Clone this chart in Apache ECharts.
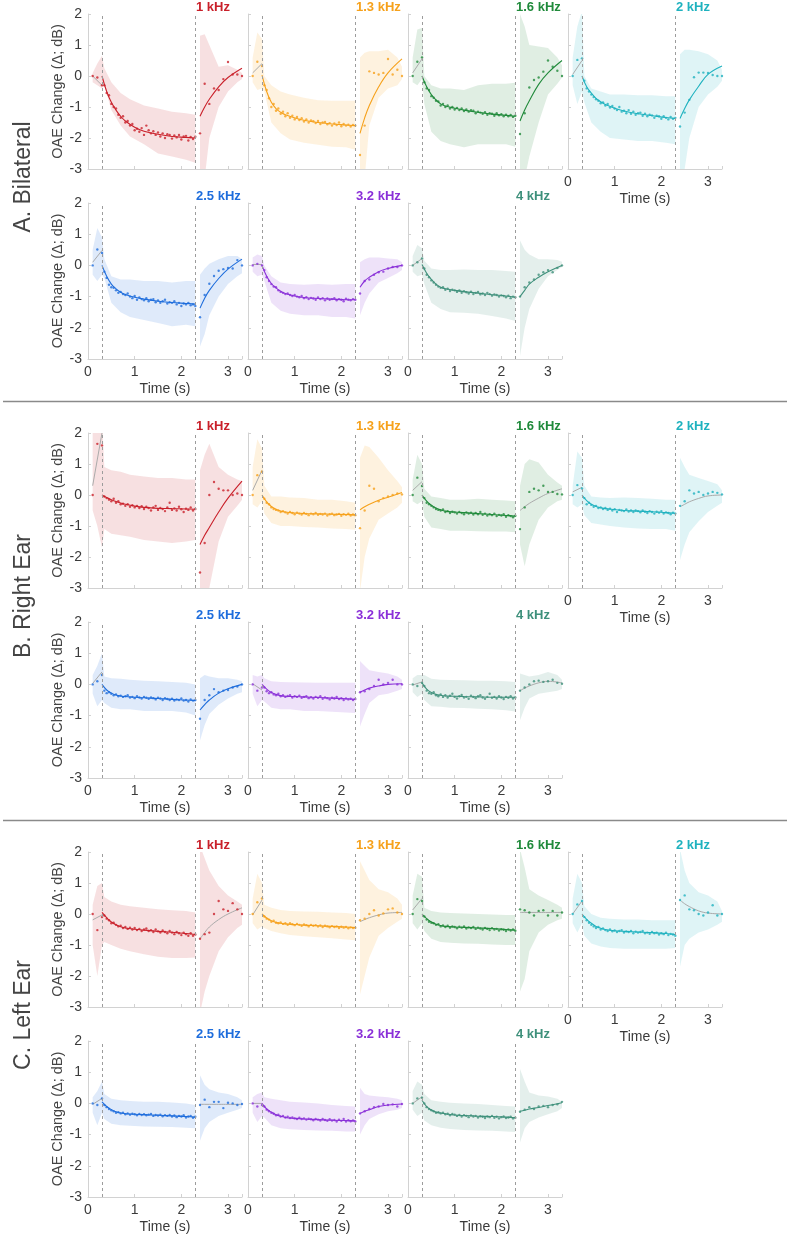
<!DOCTYPE html>
<html><head><meta charset="utf-8">
<script src="https://cdn.jsdelivr.net/npm/echarts/dist/echarts.min.js"></script>
<style>html,body{margin:0;padding:0;background:#fff}#c{width:790px;height:1239px}</style>
</head><body><div id="c"></div>
<script>
// ---------- data ----------
const sections = ['A. Bilateral', 'B. Right Ear', 'C. Left Ear'];
const freqs = ['1 kHz', '1.3 kHz', '1.6 kHz', '2 kHz', '2.5 kHz', '3.2 kHz', '4 kHz'];
const xTicks = [0, 1, 2, 3];
const yTicks = [-3, -2, -1, 0, 1, 2];
const cueT = [0.3, 2.3];
const preT = [0.1, 0.2, 0.3];
const preLineT = [0.1, 0.3];
const denseT = [0.35,0.4,0.45,0.5,0.55,0.6,0.65,0.7,0.75,0.8,0.85,0.9,0.95,1.0,1.05,1.1,1.15,1.2,1.25,1.3,1.35,1.4,1.45,1.5,1.55,1.6,1.65,1.7,1.75,1.8,1.85,1.9,1.95,2.0,2.05,2.1,2.15,2.2,2.25,2.3];
const decayT = [0.3,0.4,0.5,0.6,0.7,0.8,1.0,1.2,1.5,1.8,2.1,2.3];
const recT = [2.4,2.5,2.6,2.7,2.8,2.9,3.0,3.1,3.2,3.3];
const recCurveT = [2.4,2.5,2.6,2.8,3.0,3.3];
const bandT1 = [0.1,0.2,0.3,0.35,0.5,0.7,0.9,1.2,1.5,1.8,2.1,2.3];
const bandT2 = [2.4,2.5,2.6,2.8,3.0,3.2,3.3];

// panel order: A 1..4 kHz (7), B (7), C (7)
const preDots = [
 [0,-0.05,-0.3],[0,0.46,0.32],[0,0.46,0.6],[0,0.52,0.57],[0,0.51,0.4],[0,0.05,0.0],[0,0.1,0.22],
 [0,1.65,1.6],[0,0.64,0.75],[0,0.56,0.29],[0,0.32,0.21],[0,0.1,0.3],[0,-0.2,-0.1],[0,-0.05,0.05],
 [0,-0.52,-0.1],[0,0.38,0.5],[0,0.48,0.42],[0,0.31,0.42],[0,-0.05,0.16],[0,-0.1,-0.05],[0,0.16,0.18]
];
const preLine = [
 [0.0,-0.3],[0.1,0.4],[0.1,0.55],[0.05,0.5],[0.1,0.48],[0.03,0.03],[0.0,0.22],
 [0.3,2.0],[0.15,0.8],[0.15,0.43],[0.1,0.25],[0.03,0.4],[0.02,-0.18],[-0.02,0.08],
 [-0.19,-0.03],[-0.03,0.45],[0.13,0.5],[0.0,0.42],[-0.03,0.16],[0.0,0.0],[0.0,0.21]
];
const denseDots = [
 [-0.3,-0.55,-0.62,-0.9,-1.0,-1.05,-1.25,-1.35,-1.3,-1.5,-1.45,-1.6,-1.55,-1.75,-1.7,-1.8,-1.68,-1.9,-1.6,-1.75,-1.85,-1.78,-1.9,-1.82,-1.95,-1.85,-2.0,-1.88,-1.9,-2.02,-1.92,-1.98,-1.9,-2.05,-1.95,-1.93,-2.08,-1.97,-2.03,-1.96],
 [-0.3,-0.45,-0.72,-1.0,-0.9,-1.12,-1.05,-1.22,-1.15,-1.3,-1.2,-1.35,-1.28,-1.4,-1.32,-1.42,-1.36,-1.47,-1.4,-1.5,-1.43,-1.46,-1.52,-1.45,-1.55,-1.5,-1.48,-1.56,-1.52,-1.6,-1.53,-1.58,-1.5,-1.62,-1.55,-1.6,-1.57,-1.63,-1.58,-1.6],
 [-0.2,-0.4,-0.45,-0.65,-0.7,-0.8,-0.82,-0.95,-0.9,-1.0,-0.95,-1.05,-1.0,-1.08,-1.03,-1.1,-1.05,-1.13,-1.08,-1.15,-1.1,-1.12,-1.2,-1.15,-1.18,-1.22,-1.17,-1.25,-1.2,-1.22,-1.28,-1.2,-1.27,-1.23,-1.3,-1.25,-1.3,-1.26,-1.32,-1.28],
 [-0.15,-0.4,-0.5,-0.6,-0.68,-0.75,-0.8,-0.88,-0.85,-0.95,-0.9,-1.02,-0.97,-1.05,-1.1,-1.0,-1.15,-1.12,-1.2,-1.1,-1.22,-1.15,-1.25,-1.2,-1.18,-1.28,-1.22,-1.3,-1.25,-1.27,-1.35,-1.28,-1.3,-1.38,-1.3,-1.35,-1.4,-1.32,-1.38,-1.35],
 [-0.2,-0.4,-0.62,-0.7,-0.72,-0.8,-0.88,-0.85,-0.92,-0.95,-0.9,-1.0,-1.05,-0.98,-1.1,-1.03,-1.08,-1.12,-1.05,-1.15,-1.1,-1.08,-1.18,-1.12,-1.2,-1.15,-1.1,-1.22,-1.18,-1.2,-1.15,-1.25,-1.2,-1.3,-1.22,-1.25,-1.2,-1.28,-1.25,-1.3],
 [-0.15,-0.38,-0.5,-0.6,-0.68,-0.7,-0.8,-0.85,-0.88,-0.92,-0.9,-0.95,-0.98,-0.95,-1.0,-1.02,-0.98,-1.05,-1.02,-1.08,-1.04,-1.06,-1.1,-1.03,-1.08,-1.05,-1.12,-1.06,-1.1,-1.08,-1.05,-1.12,-1.08,-1.1,-1.15,-1.07,-1.1,-1.12,-1.08,-1.1],
 [-0.1,-0.3,-0.38,-0.48,-0.55,-0.62,-0.68,-0.72,-0.7,-0.78,-0.75,-0.82,-0.78,-0.8,-0.85,-0.8,-0.88,-0.83,-0.86,-0.9,-0.84,-0.92,-0.88,-0.85,-0.93,-0.9,-0.95,-0.88,-0.92,-0.97,-0.93,-0.95,-1.0,-0.96,-0.98,-1.02,-0.97,-1.05,-1.0,-1.02],
 [-0.05,-0.1,-0.15,-0.2,-0.12,-0.25,-0.2,-0.3,-0.28,-0.35,-0.3,-0.38,-0.33,-0.4,-0.35,-0.42,-0.36,-0.45,-0.38,-0.42,-0.5,-0.4,-0.35,-0.48,-0.42,-0.45,-0.52,-0.4,-0.25,-0.48,-0.43,-0.5,-0.38,-0.46,-0.55,-0.44,-0.48,-0.4,-0.5,-0.45],
 [-0.12,-0.25,-0.3,-0.4,-0.45,-0.48,-0.5,-0.55,-0.52,-0.56,-0.6,-0.55,-0.58,-0.62,-0.57,-0.6,-0.63,-0.58,-0.61,-0.65,-0.6,-0.62,-0.58,-0.64,-0.61,-0.63,-0.6,-0.66,-0.62,-0.6,-0.65,-0.63,-0.61,-0.67,-0.62,-0.64,-0.6,-0.66,-0.63,-0.65],
 [-0.1,-0.25,-0.3,-0.35,-0.4,-0.45,-0.48,-0.5,-0.47,-0.55,-0.52,-0.58,-0.54,-0.56,-0.6,-0.55,-0.58,-0.62,-0.56,-0.6,-0.57,-0.63,-0.58,-0.62,-0.55,-0.64,-0.6,-0.66,-0.62,-0.65,-0.6,-0.68,-0.64,-0.66,-0.62,-0.7,-0.65,-0.68,-0.72,-0.67],
 [-0.1,-0.3,-0.25,-0.32,-0.38,-0.35,-0.42,-0.4,-0.45,-0.42,-0.48,-0.44,-0.5,-0.46,-0.55,-0.48,-0.5,-0.52,-0.47,-0.53,-0.5,-0.55,-0.5,-0.52,-0.56,-0.5,-0.54,-0.58,-0.52,-0.55,-0.6,-0.54,-0.57,-0.52,-0.6,-0.56,-0.58,-0.62,-0.57,-0.6],
 [-0.2,-0.28,-0.25,-0.3,-0.35,-0.32,-0.38,-0.36,-0.4,-0.38,-0.35,-0.42,-0.4,-0.44,-0.38,-0.42,-0.45,-0.4,-0.43,-0.46,-0.42,-0.44,-0.48,-0.43,-0.45,-0.5,-0.44,-0.47,-0.5,-0.46,-0.52,-0.48,-0.5,-0.45,-0.52,-0.5,-0.55,-0.48,-0.52,-0.5],
 [-0.1,-0.22,-0.28,-0.25,-0.32,-0.35,-0.3,-0.38,-0.35,-0.4,-0.37,-0.35,-0.42,-0.38,-0.4,-0.36,-0.43,-0.4,-0.38,-0.44,-0.41,-0.45,-0.4,-0.43,-0.38,-0.46,-0.42,-0.44,-0.48,-0.43,-0.45,-0.4,-0.47,-0.44,-0.5,-0.45,-0.48,-0.46,-0.5,-0.47],
 [-0.05,-0.2,-0.28,-0.3,-0.25,-0.35,-0.38,-0.32,-0.4,-0.35,-0.42,-0.36,-0.3,-0.4,-0.45,-0.38,-0.34,-0.42,-0.4,-0.46,-0.36,-0.4,-0.44,-0.38,-0.35,-0.42,-0.46,-0.4,-0.3,-0.43,-0.4,-0.45,-0.38,-0.42,-0.47,-0.4,-0.43,-0.38,-0.45,-0.42],
 [-0.05,-0.15,-0.2,-0.3,-0.28,-0.35,-0.4,-0.38,-0.45,-0.42,-0.48,-0.44,-0.5,-0.45,-0.52,-0.48,-0.55,-0.5,-0.47,-0.55,-0.52,-0.58,-0.5,-0.56,-0.6,-0.53,-0.58,-0.62,-0.55,-0.6,-0.65,-0.58,-0.62,-0.68,-0.6,-0.65,-0.7,-0.62,-0.7,-0.66],
 [-0.08,-0.15,-0.18,-0.25,-0.22,-0.28,-0.3,-0.27,-0.32,-0.3,-0.35,-0.3,-0.33,-0.36,-0.32,-0.35,-0.38,-0.34,-0.36,-0.4,-0.35,-0.38,-0.36,-0.4,-0.37,-0.42,-0.38,-0.4,-0.43,-0.39,-0.42,-0.4,-0.45,-0.41,-0.44,-0.42,-0.46,-0.43,-0.45,-0.44],
 [-0.08,-0.18,-0.25,-0.28,-0.3,-0.35,-0.33,-0.4,-0.37,-0.42,-0.38,-0.44,-0.4,-0.42,-0.46,-0.41,-0.44,-0.4,-0.47,-0.43,-0.45,-0.42,-0.48,-0.44,-0.47,-0.5,-0.45,-0.48,-0.52,-0.46,-0.5,-0.48,-0.53,-0.49,-0.51,-0.55,-0.5,-0.53,-0.5,-0.54],
 [-0.1,-0.2,-0.28,-0.35,-0.4,-0.45,-0.42,-0.5,-0.47,-0.52,-0.55,-0.5,-0.56,-0.53,-0.58,-0.55,-0.52,-0.6,-0.56,-0.58,-0.55,-0.62,-0.57,-0.6,-0.58,-0.55,-0.62,-0.6,-0.64,-0.58,-0.62,-0.6,-0.66,-0.62,-0.65,-0.6,-0.68,-0.64,-0.66,-0.7],
 [-0.05,-0.12,-0.18,-0.22,-0.25,-0.3,-0.28,-0.32,-0.3,-0.35,-0.32,-0.36,-0.33,-0.35,-0.38,-0.34,-0.37,-0.35,-0.38,-0.36,-0.34,-0.4,-0.37,-0.39,-0.36,-0.41,-0.38,-0.4,-0.37,-0.42,-0.39,-0.44,-0.4,-0.42,-0.38,-0.45,-0.42,-0.4,-0.46,-0.43],
 [-0.1,-0.2,-0.25,-0.3,-0.33,-0.38,-0.36,-0.42,-0.4,-0.45,-0.43,-0.47,-0.45,-0.48,-0.5,-0.46,-0.5,-0.48,-0.52,-0.49,-0.51,-0.54,-0.5,-0.52,-0.55,-0.5,-0.53,-0.56,-0.51,-0.55,-0.53,-0.58,-0.52,-0.56,-0.5,-0.58,-0.54,-0.57,-0.55,-0.58],
 [0.0,-0.12,-0.18,-0.22,-0.25,-0.3,-0.28,-0.32,-0.3,-0.35,-0.33,-0.38,-0.34,-0.36,-0.4,-0.37,-0.42,-0.38,-0.4,-0.44,-0.39,-0.42,-0.4,-0.45,-0.41,-0.43,-0.47,-0.42,-0.44,-0.4,-0.46,-0.43,-0.48,-0.44,-0.42,-0.47,-0.45,-0.43,-0.48,-0.46]
];
const decayCurve = [
 [0.0,-0.5,-0.85,-1.1,-1.3,-1.45,-1.65,-1.78,-1.88,-1.95,-1.98,-2.0],
 [0.03,-0.5,-0.85,-1.05,-1.17,-1.25,-1.35,-1.43,-1.5,-1.55,-1.58,-1.6],
 [0.0,-0.35,-0.6,-0.77,-0.9,-0.97,-1.04,-1.1,-1.17,-1.23,-1.27,-1.3],
 [0.0,-0.35,-0.55,-0.72,-0.83,-0.92,-1.04,-1.13,-1.22,-1.28,-1.34,-1.37],
 [0.0,-0.35,-0.6,-0.75,-0.86,-0.93,-1.02,-1.08,-1.15,-1.19,-1.22,-1.24],
 [0.0,-0.35,-0.58,-0.72,-0.83,-0.9,-0.98,-1.03,-1.06,-1.08,-1.1,-1.1],
 [0.03,-0.25,-0.45,-0.6,-0.7,-0.75,-0.8,-0.84,-0.89,-0.94,-0.98,-1.02],
 [0.0,-0.08,-0.15,-0.21,-0.26,-0.3,-0.36,-0.4,-0.43,-0.44,-0.45,-0.46],
 [0.0,-0.22,-0.37,-0.46,-0.52,-0.55,-0.58,-0.6,-0.61,-0.62,-0.63,-0.64],
 [0.0,-0.2,-0.33,-0.42,-0.48,-0.52,-0.55,-0.57,-0.6,-0.63,-0.66,-0.68],
 [0.0,-0.18,-0.3,-0.37,-0.41,-0.44,-0.47,-0.5,-0.52,-0.54,-0.57,-0.59],
 [0.0,-0.18,-0.28,-0.34,-0.37,-0.39,-0.41,-0.43,-0.45,-0.48,-0.5,-0.52],
 [0.0,-0.15,-0.26,-0.32,-0.36,-0.38,-0.39,-0.4,-0.42,-0.44,-0.46,-0.48],
 [0.05,-0.15,-0.26,-0.32,-0.35,-0.37,-0.38,-0.39,-0.4,-0.41,-0.41,-0.41],
 [0.05,-0.12,-0.26,-0.35,-0.41,-0.45,-0.49,-0.52,-0.56,-0.59,-0.63,-0.66],
 [0.0,-0.13,-0.22,-0.27,-0.3,-0.32,-0.34,-0.36,-0.38,-0.4,-0.42,-0.44],
 [0.0,-0.15,-0.26,-0.33,-0.37,-0.4,-0.42,-0.43,-0.45,-0.47,-0.5,-0.52],
 [0.0,-0.17,-0.3,-0.4,-0.46,-0.5,-0.54,-0.56,-0.58,-0.6,-0.63,-0.66],
 [0.05,-0.1,-0.2,-0.27,-0.31,-0.33,-0.35,-0.36,-0.38,-0.4,-0.42,-0.44],
 [0.0,-0.18,-0.28,-0.36,-0.41,-0.45,-0.48,-0.5,-0.52,-0.54,-0.55,-0.56],
 [0.1,-0.1,-0.21,-0.28,-0.31,-0.33,-0.37,-0.39,-0.41,-0.42,-0.44,-0.46]
];
const recDots = [
 [-1.85,-0.25,-0.9,-0.4,-0.45,-0.1,0.45,0.05,0.05,0.0],
 [-2.55,-1.6,0.15,0.1,0.05,0.1,0.55,0.05,0.2,0.0],
 [-1.87,-1.2,-0.37,-0.13,-0.05,0.14,0.5,0.3,0.17,0.0],
 [-1.63,-1.18,-0.77,-0.04,0.11,0.11,0.1,0.03,0.0,0.0],
 [-1.66,-0.95,-0.59,-0.34,-0.17,-0.12,-0.08,-0.1,0.17,0.0],
 [-0.9,-0.5,-0.45,-0.3,-0.22,-0.2,-0.1,-0.05,-0.05,0.0],
 [-1.0,-0.7,-0.55,-0.45,-0.3,-0.22,-0.15,-0.22,-0.08,0.0],
 [-2.5,-1.55,0.0,0.42,0.2,0.15,0.15,0.0,0.05,0.0],
 [-1.07,-0.5,0.3,0.2,-0.2,-0.1,-0.05,0.0,0.05,0.02],
 [-1.1,-0.4,0.1,0.2,0.15,0.3,0.1,0.1,0.03,0.02],
 [-0.35,-0.2,0.15,0.05,0.1,0.0,0.05,0.1,0.07,0.02],
 [-1.1,-0.5,-0.35,-0.15,-0.25,-0.2,-0.18,-0.1,-0.07,0.0],
 [-0.25,-0.22,-0.15,-0.05,0.15,0.0,0.05,0.15,0.0,0.0],
 [-0.2,-0.1,0.0,0.1,0.12,0.08,0.1,0.15,0.05,0.02],
 [-0.8,-0.65,-0.6,0.0,0.42,0.15,0.1,0.35,0.15,0.0],
 [-0.2,-0.15,0.0,0.12,-0.05,0.02,0.15,0.18,0.05,0.0],
 [0.15,0.12,0.05,-0.05,0.1,0.12,-0.05,0.1,-0.05,0.05],
 [0.45,0.6,0.15,0.12,0.0,-0.05,0.05,0.28,-0.05,0.0],
 [-0.05,0.12,-0.12,0.05,0.05,-0.15,0.02,0.0,-0.05,-0.02],
 [-0.32,-0.25,-0.18,-0.12,-0.1,-0.02,-0.05,-0.03,-0.1,-0.02],
 [-0.27,-0.2,-0.12,-0.18,-0.1,-0.08,-0.12,-0.05,-0.03,0.05]
];
const recCurve = [
 [-1.3,-1.0,-0.75,-0.35,-0.05,0.25],
 [-1.85,-1.35,-0.95,-0.35,0.1,0.55],
 [-1.45,-1.1,-0.8,-0.27,0.1,0.5],
 [-1.37,-1.05,-0.77,-0.33,0.05,0.32],
 [-1.37,-1.05,-0.8,-0.42,-0.12,0.2],
 [-0.7,-0.5,-0.38,-0.2,-0.1,0.0],
 [-1.0,-0.8,-0.6,-0.38,-0.2,0.0],
 [-1.6,-1.3,-1.05,-0.55,-0.1,0.45],
 [-0.48,-0.38,-0.3,-0.17,-0.07,0.08],
 [-0.5,-0.38,-0.27,-0.1,0.05,0.2],
 [-0.38,-0.3,-0.22,-0.11,-0.03,0.0],
 [-0.82,-0.65,-0.5,-0.28,-0.14,0.0],
 [-0.25,-0.18,-0.12,-0.05,0.0,0.02],
 [-0.2,-0.12,-0.05,0.05,0.1,0.05],
 [-0.8,-0.6,-0.42,-0.18,0.0,0.2],
 [-0.25,-0.18,-0.12,-0.03,0.03,0.05],
 [0.05,0.05,0.05,0.05,0.05,0.05],
 [0.45,0.33,0.24,0.1,0.03,0.0],
 [-0.03,-0.03,-0.03,-0.03,-0.03,-0.03],
 [-0.32,-0.25,-0.2,-0.1,-0.05,-0.02],
 [-0.25,-0.22,-0.18,-0.13,-0.07,0.02]
];
const recFitSig = [true,true,true,true,true,true,true, true,true,false,false,true,true,false, false,false,false,false,false,true,true];
const bandUp1 = [
 [0.1,0.4,0.65,0.25,-0.2,-0.55,-0.75,-0.95,-1.05,-1.15,-1.2,-1.25],
 [0.6,1.4,1.2,0.0,-0.3,-0.5,-0.6,-0.7,-0.78,-0.8,-0.8,-0.8],
 [0.6,1.5,1.55,0.0,-0.3,-0.4,-0.4,-0.45,-0.3,-0.25,-0.25,-0.22],
 [0.6,1.6,2.1,0.0,-0.4,-0.5,-0.6,-0.6,-0.62,-0.62,-0.65,-0.65],
 [0.5,1.2,0.9,0.2,-0.35,-0.45,-0.45,-0.5,-0.5,-0.55,-0.5,-0.5],
 [0.25,0.35,0.3,0.0,-0.35,-0.55,-0.6,-0.62,-0.6,-0.62,-0.6,-0.6],
 [0.3,0.65,0.55,0.15,-0.1,-0.15,-0.15,-0.13,-0.15,-0.15,-0.18,-0.2],
 [2.2,2.5,2.5,0.9,0.8,0.75,0.65,0.6,0.55,0.55,0.5,0.5],
 [0.9,1.8,1.5,0.3,-0.05,-0.05,-0.08,-0.1,-0.15,-0.15,-0.2,-0.25],
 [0.5,1.3,1.0,0.2,-0.05,-0.1,-0.15,-0.15,-0.12,-0.15,-0.18,-0.2],
 [0.3,1.4,1.2,0.3,-0.05,-0.08,-0.1,-0.08,-0.1,-0.12,-0.15,-0.15],
 [0.3,0.6,1.0,0.25,0.2,0.18,0.15,0.12,0.1,0.08,0.05,0.0],
 [0.3,0.25,0.3,0.2,0.1,0.08,0.07,0.06,0.05,0.05,0.05,0.05],
 [0.2,0.3,0.3,0.3,0.18,0.15,0.14,0.13,0.12,0.12,0.1,0.08],
 [0.3,0.9,1.0,0.55,0.4,0.3,0.25,0.2,0.15,0.12,0.1,0.05],
 [0.5,1.3,1.0,0.3,0.2,0.13,0.1,0.08,0.07,0.05,0.03,0.0],
 [0.6,1.3,1.2,0.2,0.1,0.05,0.03,0.02,0.0,-0.02,-0.03,-0.03],
 [0.5,1.3,1.0,0.25,0.0,-0.12,-0.15,-0.18,-0.18,-0.2,-0.2,-0.2],
 [0.2,0.4,0.7,0.3,0.15,0.1,0.08,0.05,0.05,0.03,0.0,-0.05],
 [0.2,0.3,0.35,0.2,0.15,0.1,0.05,0.03,0.0,-0.05,-0.08,-0.1],
 [0.4,0.7,0.6,0.3,0.1,0.05,0.02,0.0,-0.02,-0.05,-0.08,-0.1]
];
const bandLo1 = [
 [-0.2,-0.3,-0.4,-0.3,-1.1,-1.6,-1.95,-2.2,-2.5,-2.6,-2.7,-2.8],
 [-0.2,-0.45,-0.4,-0.5,-1.5,-1.85,-2.05,-2.15,-2.22,-2.28,-2.3,-2.38],
 [-0.2,-0.3,-0.1,-0.9,-1.8,-2.1,-2.2,-2.3,-2.2,-2.2,-2.2,-2.28],
 [-0.3,-0.9,-0.5,-0.85,-1.5,-1.8,-2.0,-2.05,-2.1,-2.1,-2.15,-2.2],
 [-0.3,-0.5,-0.3,-0.4,-1.2,-1.5,-1.65,-1.75,-1.85,-1.95,-1.9,-1.95],
 [-0.2,-0.35,-0.3,-0.5,-1.2,-1.45,-1.55,-1.6,-1.6,-1.65,-1.65,-1.7],
 [-0.2,-0.35,-0.3,-0.6,-1.2,-1.4,-1.5,-1.52,-1.55,-1.62,-1.7,-1.78],
 [-0.5,-1.0,-1.7,-1.1,-1.25,-1.3,-1.35,-1.45,-1.5,-1.55,-1.5,-1.45],
 [-0.3,-0.4,-0.2,-0.6,-0.9,-1.0,-1.0,-1.03,-1.05,-1.08,-1.1,-1.12],
 [-0.2,-0.3,-0.2,-0.7,-1.05,-1.1,-1.15,-1.15,-1.17,-1.18,-1.18,-1.2],
 [-0.3,-0.4,-0.3,-0.65,-0.9,-0.95,-1.0,-1.05,-1.08,-1.1,-1.1,-1.15],
 [-0.3,-0.7,-0.5,-0.6,-0.75,-0.8,-0.8,-0.85,-0.85,-0.85,-0.9,-1.0],
 [-0.3,-0.7,-0.5,-0.55,-0.75,-0.8,-0.8,-0.85,-0.85,-0.88,-0.9,-0.92],
 [-0.25,-0.4,-0.3,-0.5,-0.7,-0.72,-0.75,-0.76,-0.78,-0.8,-0.83,-0.87],
 [-1.0,-2.0,-1.0,-0.9,-1.0,-1.12,-1.2,-1.3,-1.38,-1.42,-1.42,-1.4],
 [-0.3,-0.5,-0.4,-0.45,-0.55,-0.62,-0.68,-0.72,-0.75,-0.78,-0.82,-0.85],
 [-0.3,-0.5,-0.3,-0.55,-0.8,-0.9,-0.93,-0.95,-0.96,-0.98,-1.0,-1.0],
 [-0.3,-0.6,-0.3,-0.7,-0.95,-1.05,-1.1,-1.12,-1.12,-1.12,-1.12,-1.1],
 [-0.3,-0.7,-0.3,-0.5,-0.65,-0.7,-0.72,-0.74,-0.75,-0.76,-0.78,-0.8],
 [-0.3,-0.6,-0.4,-0.45,-0.7,-0.8,-0.83,-0.85,-0.87,-0.88,-0.9,-0.9],
 [-0.2,-0.4,-0.3,-0.55,-0.7,-0.78,-0.82,-0.85,-0.87,-0.88,-0.9,-0.92]
];
const bandUp2 = [
 [1.3,1.35,1.0,0.3,0.35,0.2,0.1],[0.6,0.75,0.8,0.8,0.85,0.6,0.3],[2.0,1.6,1.0,0.95,0.9,0.6,0.35],[0.7,0.85,0.85,0.8,0.7,0.5,0.2],
 [-0.3,-0.1,0.05,0.2,0.3,0.3,0.2],[0.1,0.2,0.25,0.25,0.22,0.2,0.1],[0.8,0.5,0.35,0.2,0.2,0.17,0.12],
 [0.8,1.3,1.65,0.9,0.65,0.5,0.45],[1.2,1.6,1.55,1.2,0.8,0.45,0.25],[0.3,1.0,1.15,1.05,0.65,0.4,0.3],[1.2,0.9,0.65,0.55,0.45,0.35,0.15],
 [0.2,0.3,0.25,0.2,0.2,0.15,0.1],[0.75,0.6,0.45,0.4,0.35,0.25,0.15],[0.35,0.3,0.25,0.3,0.4,0.3,0.15],
 [2.2,1.8,1.4,0.9,0.6,0.4,0.3],[1.7,1.4,1.1,0.8,0.7,0.5,0.3],[2.1,1.5,0.8,0.6,0.45,0.3,0.2],[2.1,1.4,1.0,0.7,0.6,0.4,0.1],
 [0.9,0.6,0.45,0.35,0.3,0.2,0.1],[0.5,0.3,0.25,0.22,0.2,0.15,0.1],[1.1,0.7,0.35,0.25,0.22,0.15,0.05]
];
const bandLo2 = [
 [-3.3,-3.3,-2.0,-1.0,-0.5,-0.2,-0.1],[-3.3,-3.3,-1.6,-0.7,-0.4,-0.3,-0.1],[-3.3,-3.3,-2.6,-1.5,-0.6,-0.25,-0.05],[-3.3,-3.0,-2.0,-1.0,-0.6,-0.35,-0.15],
 [-2.6,-2.2,-1.6,-1.0,-0.6,-0.35,-0.25],[-1.6,-1.2,-0.9,-0.55,-0.4,-0.25,-0.15],[-2.9,-2.0,-1.4,-0.75,-0.35,-0.15,-0.05],
 [-3.3,-3.3,-3.0,-1.5,-0.7,-0.35,-0.15],[-3.1,-2.0,-1.4,-0.8,-0.6,-0.4,-0.25],[-1.6,-2.3,-1.6,-0.8,-0.4,-0.2,-0.15],[-2.1,-1.6,-1.2,-0.85,-0.55,-0.35,-0.25],
 [-1.8,-1.3,-0.95,-0.65,-0.45,-0.3,-0.25],[-1.35,-0.95,-0.6,-0.35,-0.3,-0.2,-0.15],[-1.15,-0.75,-0.45,-0.3,-0.25,-0.2,-0.15],
 [-3.2,-2.5,-2.0,-1.2,-0.75,-0.45,-0.35],[-2.6,-2.0,-1.4,-0.7,-0.45,-0.25,-0.15],[-2.5,-2.1,-1.2,-0.6,-0.35,-0.2,-0.15],[-1.7,-1.0,-0.8,-0.6,-0.5,-0.35,-0.25],
 [-1.2,-0.8,-0.6,-0.4,-0.3,-0.2,-0.15],[-1.0,-0.7,-0.5,-0.35,-0.25,-0.2,-0.15],[-1.25,-0.8,-0.6,-0.45,-0.35,-0.25,-0.15]
];

// ---------- styling ----------
const freqColors = ['#c9202a', '#f6a11b', '#208a3b', '#1fb2bf', '#1e6ddc', '#8a30d8', '#3e907b'];
const FONT = 'Liberation Sans, Arial, Helvetica, sans-serif';
const AXIS_GREY = '#d2d2d2';
const FIT_GREY = '#aaaaaa';
function rgba(hex, a) {
  const n = parseInt(hex.slice(1), 16);
  return `rgba(${(n >> 16) & 255},${(n >> 8) & 255},${n & 255},${a})`;
}
const pairs = (T, V) => T.map((t, k) => [t, V[k]]);

const grids = [], xAxes = [], yAxes = [], series = [], titles = [], graphics = [];
for (let s = 0; s < 3; s++) {
  for (let f = 0; f < 7; f++) {
    const i = s * 7 + f;
    const row = f < 4 ? 0 : 1;
    const col = f < 4 ? f : f - 4;
    const left = 88 + 160 * col;
    const top = (row === 0 ? 14 : 203) + 419 * s;
    const height = row === 0 ? 155 : 156;
    const color = freqColors[f];
    grids.push({ left, top, width: 154, height });
    const showX = row === 1 || col === 3;
    xAxes.push({
      gridIndex: i, type: 'value', min: 0, max: 3.3, interval: 1,
      axisLine: { show: true, onZero: false, lineStyle: { color: AXIS_GREY, width: 1 } },
      axisTick: { show: true, inside: true, length: 3, lineStyle: { color: AXIS_GREY } },
      axisLabel: { show: showX, margin: 6, fontSize: 14, color: '#3a3a3a', fontFamily: FONT,
        formatter: v => (xTicks.includes(v) ? String(v) : '') },
      splitLine: { show: false },
      name: showX ? 'Time (s)' : '', nameLocation: 'middle', nameGap: 23,
      nameTextStyle: { fontSize: 14, color: '#3a3a3a', fontFamily: FONT }
    });
    yAxes.push({
      gridIndex: i, type: 'value', min: -3, max: 2, interval: 1,
      axisLine: { show: true, onZero: false, lineStyle: { color: AXIS_GREY, width: 1 } },
      axisTick: { show: true, inside: true, length: 3, lineStyle: { color: AXIS_GREY } },
      axisLabel: { show: col === 0, margin: 6, fontSize: 14, color: '#3a3a3a', fontFamily: FONT,
        formatter: v => (yTicks.includes(v) ? String(v) : '') },
      splitLine: { show: false },
      name: col === 0 ? 'OAE Change (\u0394; dB)' : '', nameLocation: 'middle', nameGap: 21, nameRotate: 90,
      nameTextStyle: { fontSize: 14.5, color: '#444', fontFamily: FONT }
    });
    titles.push({
      text: freqs[f], left: left + 108, top: top - 13, padding: 0,
      textStyle: { fontSize: 13, fontWeight: 'bold', color, fontFamily: FONT }
    });
    const fill = rgba(color, 0.14);
    series.push({
      type: 'custom', xAxisIndex: i, yAxisIndex: i, clip: true, silent: true, z: 1,
      data: [[0, 0]],
      renderItem: (params, api) => {
        const poly = (T, up, lo) => {
          const pts = T.map((t, k) => api.coord([t, up[k]]));
          for (let k = T.length - 1; k >= 0; k--) pts.push(api.coord([T[k], lo[k]]));
          return { type: 'polygon', shape: { points: pts }, style: { fill } };
        };
        return { type: 'group', children: [
          poly(bandT1, bandUp1[i], bandLo1[i]), poly(bandT2, bandUp2[i], bandLo2[i]) ] };
      }
    });
    series.push({
      type: 'line', xAxisIndex: i, yAxisIndex: i, z: 2, silent: true, showSymbol: false,
      data: pairs(preLineT, preLine[i]), lineStyle: { color: FIT_GREY, width: 1 },
      markLine: { silent: true, symbol: ['none', 'none'], label: { show: false },
        lineStyle: { type: [3, 3], color: '#9c9c9c', width: 1 },
        data: cueT.map(t => ({ xAxis: t })) }
    });
    series.push({
      type: 'line', xAxisIndex: i, yAxisIndex: i, z: 3, silent: true, showSymbol: false, smooth: 0.4,
      data: pairs(decayT, decayCurve[i]), lineStyle: { color, width: 1.1 }
    });
    series.push({
      type: 'line', xAxisIndex: i, yAxisIndex: i, z: 3, silent: true, showSymbol: false, smooth: 0.4,
      data: pairs(recCurveT, recCurve[i]),
      lineStyle: { color: recFitSig[i] ? color : FIT_GREY, width: recFitSig[i] ? 1.1 : 1 }
    });
    series.push({
      type: 'scatter', xAxisIndex: i, yAxisIndex: i, z: 4, silent: true, symbolSize: 2.4,
      itemStyle: { color },
      data: [].concat(pairs(preT, preDots[i]), pairs(denseT, denseDots[i]), pairs(recT, recDots[i]))
    });
  }
  graphics.push({
    type: 'text', x: 24, y: 177 + 419 * s, rotation: Math.PI / 2,
    style: { text: sections[s], fontSize: 23, fontFamily: FONT, fill: '#444',
      align: 'center', verticalAlign: 'middle', textAlign: 'center', textVerticalAlign: 'middle' }
  });
}
[401.5, 820.5].forEach(y => graphics.push({
  type: 'line', shape: { x1: 3, y1: y, x2: 787, y2: y }, style: { stroke: '#8a8a8a', lineWidth: 1.5 }
}));

const chart = echarts.init(document.getElementById('c'), null, { renderer: 'canvas' });
chart.setOption({
  animation: false,
  backgroundColor: '#fff',
  textStyle: { fontFamily: FONT },
  title: titles,
  grid: grids,
  xAxis: xAxes,
  yAxis: yAxes,
  series,
  graphic: graphics
});
</script></body></html>
